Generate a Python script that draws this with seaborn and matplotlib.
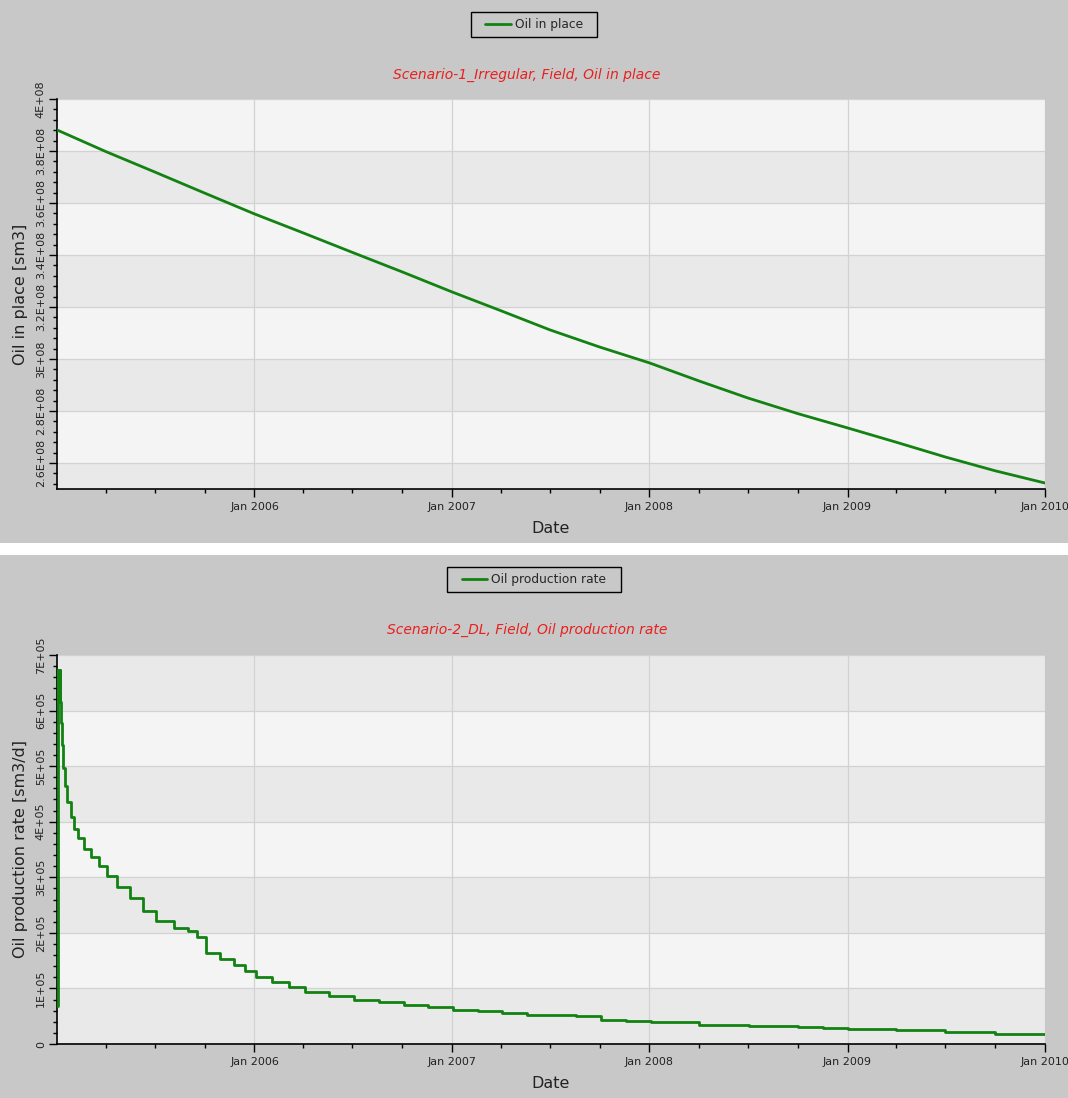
import matplotlib
matplotlib.use("Agg")
import matplotlib.pyplot as plt
import matplotlib.dates as mdates
from matplotlib.ticker import FixedLocator, MultipleLocator, FuncFormatter
from matplotlib.patches import Rectangle
import pandas as pd
import seaborn as sns

# ---------------- data ----------------
oip_dates = ["2005-01-01", "2005-04-01", "2005-07-01", "2005-10-01",
             "2006-01-01", "2006-04-01", "2006-07-01", "2006-10-01",
             "2007-01-01", "2007-04-01", "2007-07-01", "2007-10-01",
             "2008-01-01", "2008-04-01", "2008-07-01", "2008-10-01",
             "2009-01-01", "2009-04-01", "2009-07-01", "2009-10-01",
             "2010-01-01"]
oip_values = [3.881e8, 3.798e8, 3.719e8, 3.638e8,
              3.558e8, 3.485e8, 3.410e8, 3.335e8,
              3.258e8, 3.186e8, 3.112e8, 3.046e8,
              2.985e8, 2.916e8, 2.850e8, 2.790e8,
              2.735e8, 2.680e8, 2.623e8, 2.570e8,
              2.523e8]

rate_dates = ["2005-01-01", "2005-01-02", "2005-01-03", "2005-01-04", "2005-01-05",
              "2005-01-06", "2005-01-07", "2005-01-09", "2005-01-11", "2005-01-12",
              "2005-01-16", "2005-01-20", "2005-01-26", "2005-02-02", "2005-02-08",
              "2005-02-19", "2005-03-05", "2005-03-20", "2005-04-03", "2005-04-22",
              "2005-05-16", "2005-06-09", "2005-07-03", "2005-08-05", "2005-08-31",
              "2005-09-17", "2005-10-04", "2005-10-29", "2005-11-24", "2005-12-15",
              "2006-01-04", "2006-02-03", "2006-03-05", "2006-04-05", "2006-05-19",
              "2006-07-04", "2006-08-19", "2006-10-04", "2006-11-18", "2007-01-03",
              "2007-02-18", "2007-04-04", "2007-05-19", "2007-07-03", "2007-08-18",
              "2007-10-03", "2007-11-19", "2008-01-04", "2008-04-02", "2008-07-03",
              "2008-10-02", "2008-11-16", "2009-01-01", "2009-04-01", "2009-07-01",
              "2009-10-01", "2010-01-01"]
rate_values = [69000, 673000, 618000, 673000, 618000,
               673000, 616000, 577000, 538000, 496000,
               464000, 435000, 408000, 386000, 370000,
               351000, 336000, 321000, 303000, 282000,
               262000, 240000, 222000, 208000, 203000,
               193000, 163000, 153000, 143000, 132000,
               121000, 111000, 102000, 94000, 86000,
               80000, 75000, 70000, 66000, 62000,
               59000, 56000, 53000, 52000, 50000,
               43000, 41000, 39000, 35000, 33000,
               30000, 28000, 26500, 25000, 22000,
               18000, 18000]

top_yticks = [2.6e8, 2.8e8, 3.0e8, 3.2e8, 3.4e8, 3.6e8, 3.8e8, 4.0e8]
bot_yticks = [0, 1e5, 2e5, 3e5, 4e5, 5e5, 6e5, 7e5]
year_ticks = ["2006-01-01", "2007-01-01", "2008-01-01", "2009-01-01", "2010-01-01"]

# ---------------- style ----------------
sns.set_theme(style="white")
plt.rcParams["font.family"] = ["DejaVu Sans"]

BG = "#c8c8c8"
LIGHT = "#f4f4f4"
DARK = "#e9e9e9"
GREEN = "#128212"
TITLE_RED = "#e8201e"

W, H = 1068, 1098
fig = plt.figure(figsize=(W / 100, H / 100), dpi=100, facecolor=BG)
# white separator strip
fig.patches.append(Rectangle((0, 1 - 555 / H), 1, 12 / H, transform=fig.transFigure,
                             facecolor="white", edgecolor="none", zorder=-2))


def sci_fmt(v, pos=None):
    if v == 0:
        return "0"
    exp = 0
    m = abs(v)
    while m >= 10:
        m /= 10
        exp += 1
    m = v / 10 ** exp
    return f"{m:g}E+{exp:02d}"


def setup_axes(ax, ylim, yticks, yminor, band_colors, ylabel):
    ax.set_facecolor(LIGHT)
    ax.set_ylim(*ylim)
    ax.set_xlim(pd.Timestamp("2005-01-01"), pd.Timestamp("2010-01-01"))
    edges = sorted(set([ylim[0]] + yticks + [ylim[1]]), reverse=True)
    for i in range(len(edges) - 1):
        ax.axhspan(edges[i + 1], edges[i], color=band_colors[i % 2], lw=0, zorder=0)
    ax.yaxis.set_major_locator(FixedLocator(yticks))
    ax.yaxis.set_minor_locator(MultipleLocator(yminor))
    ax.yaxis.set_major_formatter(FuncFormatter(sci_fmt))
    ax.xaxis.set_major_locator(FixedLocator(mdates.date2num(pd.to_datetime(year_ticks))))
    qs = pd.date_range("2005-04-01", "2009-10-01", freq="QS")
    ax.xaxis.set_minor_locator(FixedLocator(mdates.date2num(qs)))
    ax.xaxis.set_major_formatter(FuncFormatter(
        lambda v, p: mdates.num2date(v).strftime("%b %Y")))
    ax.grid(True, which="major", color="#d2d2d2", lw=0.9, zorder=1)
    ax.set_axisbelow(True)
    for s in ["top", "right"]:
        ax.spines[s].set_visible(False)
    for s in ["left", "bottom"]:
        ax.spines[s].set_color("black")
        ax.spines[s].set_linewidth(1.2)
    ax.tick_params(axis="both", which="major", direction="out", length=6, width=1,
                   color="black", labelsize=8, labelcolor="#222222", bottom=True, left=True)
    ax.tick_params(axis="both", which="minor", direction="out", length=3, width=1,
                   color="black", bottom=True, left=True)
    ax.tick_params(axis="y", which="major", pad=2)
    for lbl in ax.get_yticklabels():
        lbl.set_rotation(90)
        lbl.set_va("center")
    ax.set_xlabel("Date", fontsize=11.5, color="#222222", labelpad=6)
    ax.set_ylabel(ylabel, fontsize=11.5, color="#222222", labelpad=6)


def add_legend(ax, box_px, center_y_px):
    x0, x1, y0, y1 = box_px
    fig.patches.append(Rectangle((x0 / W, 1 - y1 / H), (x1 - x0) / W, (y1 - y0) / H,
                                 transform=fig.transFigure, facecolor=BG,
                                 edgecolor="black", lw=1, zorder=-1))
    ax.legend(loc="center", bbox_to_anchor=((x0 + x1) / 2 / W, 1 - center_y_px / H),
              bbox_transform=fig.transFigure, frameon=False, fontsize=8.8,
              handlelength=2.1, handletextpad=0.35, borderpad=0.3)


# ---------------- top panel ----------------
ax1 = fig.add_axes([57 / W, 1 - 489 / H, 988 / W, 390 / H])
df1 = pd.DataFrame({"Date": pd.to_datetime(oip_dates), "Oil in place": oip_values})
sns.lineplot(data=df1, x="Date", y="Oil in place", ax=ax1, color=GREEN, lw=2,
             label="Oil in place", estimator=None, sort=False, zorder=3)
setup_axes(ax1, (2.5e8, 4.0e8), top_yticks, 4e6, [LIGHT, DARK], "Oil in place [sm3]")
add_legend(ax1, (471, 597, 12, 37), 24.5)
fig.text(527 / W, 1 - 75 / H, "Scenario-1_Irregular, Field, Oil in place", color=TITLE_RED,
         style="italic", ha="center", va="center", fontsize=10)

# ---------------- bottom panel ----------------
ax2 = fig.add_axes([57 / W, 1 - 1044 / H, 988 / W, 389 / H])
df2 = pd.DataFrame({"Date": pd.to_datetime(rate_dates), "Oil production rate": rate_values})
sns.lineplot(data=df2, x="Date", y="Oil production rate", ax=ax2, color=GREEN, lw=2,
             label="Oil production rate", estimator=None, sort=False,
             drawstyle="steps-post", zorder=3)
setup_axes(ax2, (0, 7e5), bot_yticks, 2e4, [DARK, LIGHT], "Oil production rate [sm3/d]")
add_legend(ax2, (447, 621, 567, 592), 579.5)
fig.text(527 / W, 1 - 630 / H, "Scenario-2_DL, Field, Oil production rate", color=TITLE_RED,
         style="italic", ha="center", va="center", fontsize=10)

fig.savefig("out.png", dpi=100, facecolor=BG)
